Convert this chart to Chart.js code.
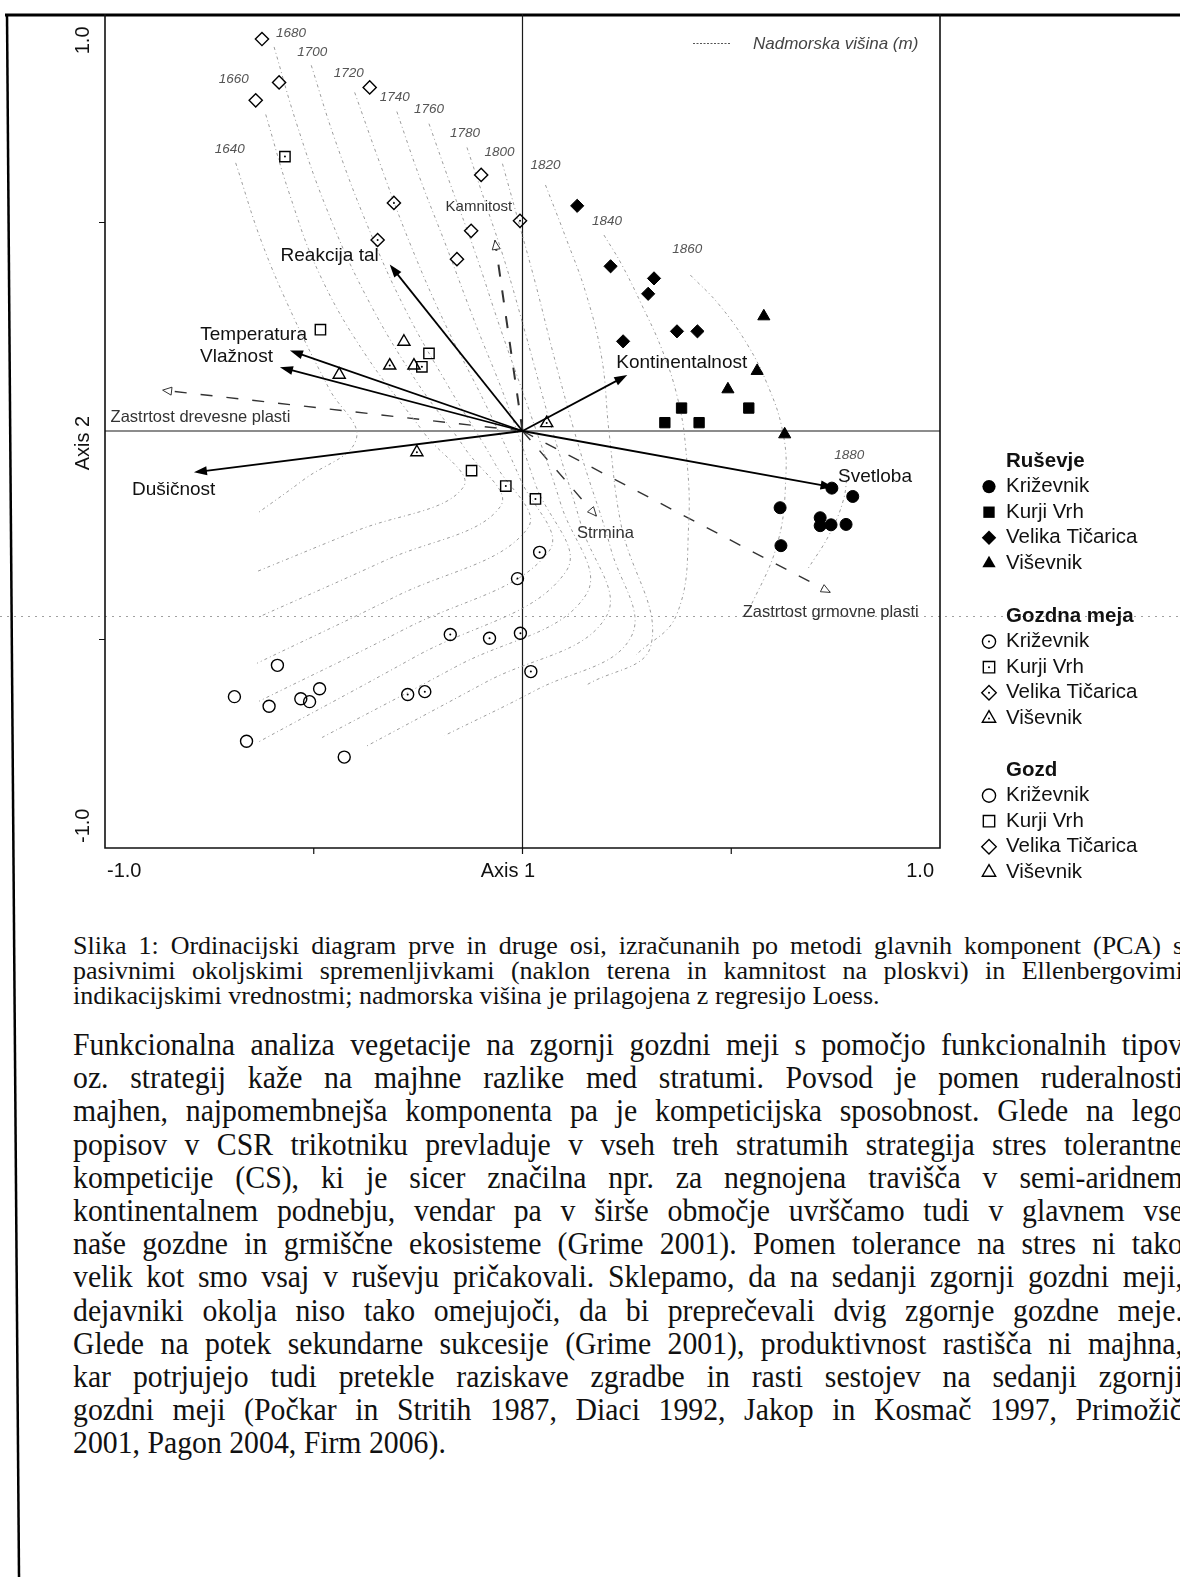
<!DOCTYPE html>
<html>
<head>
<meta charset="utf-8">
<script src="https://cdn.jsdelivr.net/npm/chart.js@4.4.1/dist/chart.umd.min.js"></script>
<style>
  html, body { margin:0; padding:0; background:#fff; }
  body { width:1180px; height:1577px; overflow:hidden; position:relative; }
  #chartBox { position:absolute; left:0; top:0; width:1180px; height:900px; }
  #pageLines { position:absolute; left:0; top:0; }
  .caption { position:absolute; left:73px; top:932.5px; font-family:"Liberation Serif","Times New Roman",serif; font-size:26px; line-height:25px; color:#111; }
  .para { position:absolute; left:73px; top:1028px; font-family:"Liberation Serif","Times New Roman",serif; font-size:32px; line-height:33.2px; color:#111; transform:scaleX(0.93); transform-origin:0 0; }
  .jl { white-space:nowrap; }
</style>
</head>
<body>
<svg id="pageLines" width="1180" height="1577">
  <line x1="5" y1="15" x2="1180" y2="15" stroke="#000" stroke-width="3"/>
  <line x1="7" y1="14" x2="19" y2="1577" stroke="#000" stroke-width="2.5"/>
</svg>
<div id="chartBox"><canvas id="c" width="1180" height="900" style="width:1180px;height:900px"></canvas></div>

<div class="caption" id="cap"></div>
<div class="para" id="par"></div>

<script>
// ================= DATA =================
const sites  = ["Križevnik", "Kurji Vrh", "Velika Tičarica", "Viševnik"];
const strata = ["Ruševje", "Gozdna meja", "Gozd"];

// Ruševje (filled symbols)
const rusKrizX  = [0.741, 0.791, 0.617, 0.713, 0.713, 0.739, 0.775, 0.619];
const rusKrizY  = [-0.137, -0.157, -0.184, -0.208, -0.227, -0.225, -0.224, -0.275];
const rusKurjiX = [0.381, 0.542, 0.341, 0.423];
const rusKurjiY = [0.055, 0.055, 0.020, 0.020];
const rusTicX   = [0.131, 0.211, 0.315, 0.301, 0.370, 0.419, 0.241];
const rusTicY   = [0.540, 0.395, 0.366, 0.329, 0.239, 0.239, 0.215];
const rusVisX   = [0.578, 0.562, 0.492, 0.628];
const rusVisY   = [0.275, 0.144, 0.100, -0.008];

// Gozdna meja (open symbols with centre dot)
const gmKrizX  = [0.041, -0.012, -0.005, 0.020, -0.173, -0.079, -0.275, -0.234];
const gmKrizY  = [-0.291, -0.354, -0.485, -0.577, -0.488, -0.497, -0.632, -0.625];
const gmKurjiX = [-0.569, -0.241, -0.040, 0.031];
const gmKurjiY = [0.658, 0.154, -0.132, -0.163];
const gmTicX   = [-0.308, -0.347, -0.006];
const gmTicY   = [0.547, 0.458, 0.504];
const gmVisX   = [-0.318, 0.058, -0.253];
const gmVisY   = [0.157, 0.019, -0.051];

// Gozd (open symbols)
const gKrizX  = [-0.587, -0.690, -0.607, -0.531, -0.510, -0.486, -0.661, -0.427];
const gKrizY  = [-0.562, -0.637, -0.660, -0.642, -0.649, -0.618, -0.744, -0.782];
const gKurjiX = [-0.484, -0.224, -0.122];
const gKurjiY = [0.243, 0.186, -0.095];
const gTicX   = [-0.624, -0.583, -0.639, -0.366, -0.099, -0.123, -0.157];
const gTicY   = [0.940, 0.836, 0.793, 0.824, 0.614, 0.480, 0.412];
const gVisX   = [-0.284, -0.260, -0.439];
const gVisY   = [0.214, 0.157, 0.135];

// Ellenberg indicator values (solid arrows)
const envNames = ["Reakcija tal", "Temperatura", "Vlažnost", "Dušičnost", "Kontinentalnost", "Svetloba"];
const envX = [-0.318, -0.557, -0.581, -0.787, 0.251, 0.745];
const envY = [0.399, 0.193, 0.153, -0.099, 0.134, -0.135];

// passive variables (dashed arrows)
const suppNames = ["Kamnitost", "Strmina", "Zastrtost grmovne plasti", "Zastrtost drevesne plasti"];
const suppX = [-0.066, 0.177, 0.737, -0.862];
const suppY = [0.457, -0.204, -0.387, 0.098];

// altitude isolines (Loess), m
const isoLevels = [1640, 1660, 1680, 1700, 1720, 1740, 1760, 1780, 1800, 1820, 1840, 1860, 1880];
const isoX = [
  [-0.687, -0.624, -0.547, -0.463, -0.398, -0.523, -0.636],
  [-0.615, -0.559, -0.487, -0.378, -0.234, -0.142, -0.402, -0.636],
  [-0.595, -0.542, -0.470, -0.378, -0.258, -0.137, -0.053, -0.330, -0.636],
  [-0.506, -0.451, -0.374, -0.282, -0.174, -0.065, 0.012, -0.306, -0.636],
  [-0.402, -0.342, -0.270, -0.186, -0.089, -0.005, 0.063, -0.282, -0.631],
  [-0.301, -0.246, -0.181, -0.113, -0.041, 0.031, 0.104, -0.258, -0.631],
  [-0.224, -0.174, -0.113, -0.053, 0.019, 0.092, 0.152, -0.161, -0.480],
  [-0.133, -0.089, -0.041, 0.007, 0.067, 0.140, 0.200, -0.089, -0.376],
  [-0.048, -0.012, 0.031, 0.080, 0.140, 0.212, 0.260, 0.031, -0.186],
  [0.055, 0.104, 0.152, 0.190, 0.207, 0.236, 0.308, 0.152],
  [0.195, 0.236, 0.284, 0.333, 0.369, 0.390, 0.398, 0.369, 0.272],
  [0.402, 0.470, 0.537, 0.586, 0.622, 0.631, 0.610, 0.537],
  [0.778, 0.769, 0.735, 0.682]
];
const isoY = [
  [0.643, 0.451, 0.270, 0.101, -0.019, -0.116, -0.198],
  [0.759, 0.571, 0.378, 0.186, -0.007, -0.135, -0.241, -0.337],
  [0.921, 0.740, 0.535, 0.330, 0.125, -0.043, -0.181, -0.311, -0.448],
  [0.877, 0.704, 0.499, 0.294, 0.101, -0.080, -0.234, -0.398, -0.557],
  [0.812, 0.643, 0.451, 0.258, 0.065, -0.116, -0.289, -0.475, -0.648],
  [0.766, 0.607, 0.439, 0.258, 0.077, -0.128, -0.337, -0.542, -0.745],
  [0.737, 0.595, 0.427, 0.246, 0.041, -0.176, -0.393, -0.566, -0.735],
  [0.680, 0.547, 0.402, 0.234, 0.017, -0.224, -0.446, -0.603, -0.757],
  [0.641, 0.511, 0.354, 0.161, -0.055, -0.284, -0.494, -0.622, -0.730],
  [0.590, 0.463, 0.330, 0.174, 0.000, -0.224, -0.513, -0.610],
  [0.470, 0.402, 0.306, 0.198, 0.089, -0.031, -0.224, -0.441, -0.537],
  [0.374, 0.304, 0.210, 0.113, 0.005, -0.104, -0.272, -0.441],
  [-0.094, -0.164, -0.248, -0.333]
];

// axis tick labels
const xTickValues = [-1, 0, 1];
const xTickLabels = ["-1.0", "Axis 1", "1.0"];
const yTickValues = [1, 0, -1];
const yTickLabels = ["1.0", "Axis 2", "-1.0"];
const minorTicks = [-0.5, 0, 0.5];

const isoLegendText = "Nadmorska višina (m)";

const captionLines = [
  "Slika 1: Ordinacijski diagram prve in druge osi, izračunanih po metodi glavnih komponent (PCA) s",
  "pasivnimi okoljskimi spremenljivkami (naklon terena in kamnitost na ploskvi) in Ellenbergovimi",
  "indikacijskimi vrednostmi; nadmorska višina je prilagojena z regresijo Loess."
];
const paraLines = [
  "Funkcionalna analiza vegetacije na zgornji gozdni meji s pomočjo funkcionalnih tipov",
  "oz. strategij kaže na majhne razlike med stratumi. Povsod je pomen ruderalnosti",
  "majhen, najpomembnejša komponenta pa je kompeticijska sposobnost. Glede na lego",
  "popisov v CSR trikotniku prevladuje v vseh treh stratumih strategija stres tolerantne",
  "kompeticije (CS), ki je sicer značilna npr. za negnojena travišča v semi-aridnem",
  "kontinentalnem podnebju, vendar pa v širše območje uvrščamo tudi v glavnem vse",
  "naše gozdne in grmiščne ekosisteme (Grime 2001). Pomen tolerance na stres ni tako",
  "velik kot smo vsaj v ruševju pričakovali. Sklepamo, da na sedanji zgornji gozdni meji,",
  "dejavniki okolja niso tako omejujoči, da bi preprečevali dvig zgornje gozdne meje.",
  "Glede na potek sekundarne sukcesije (Grime 2001), produktivnost rastišča ni majhna,",
  "kar potrjujejo tudi pretekle raziskave zgradbe in rasti sestojev na sedanji zgornji",
  "gozdni meji (Počkar in Stritih 1987, Diaci 1992, Jakop in Kosmač 1997, Primožič",
  "2001, Pagon 2004, Firm 2006)."
];

// ================= STYLE =================
const FONT = '"Liberation Sans", Arial, Helvetica, sans-serif';
const siteStyle  = ['circle', 'rect', 'rectRot', 'triangle'];
const siteRadius = [6, 7.3, 6.6, 7];
const envLabelAlign = ['right', 'right', 'right', 'left', 'left', 'left'];
const envLabelDX = [-11, 17, -7, -62, -11, 4.5];
const envLabelDY = [-8.5, -15.5, -10.5, 17, -12, -11];
const suppLabelAlign = ['center', 'center', 'center', 'left'];
const suppLabelDX = [-16, 9, 0.5, -52];
const suppLabelDY = [-34, 17, 20, 27.5];
const isoLabelDX = [-6, -32, 17, 1, -6, -2, 0, -2, -3, 0, 3, -3, 2];
const isoLabelDY = [-14, -35, -14, -13, -19, -14, -14, -14, -11, -20, -14, -26, -15];

const groups = [
  [rusKrizX, rusKrizY], [rusKurjiX, rusKurjiY], [rusTicX, rusTicY], [rusVisX, rusVisY],
  [gmKrizX, gmKrizY], [gmKurjiX, gmKurjiY], [gmTicX, gmTicY], [gmVisX, gmVisY],
  [gKrizX, gKrizY], [gKurjiX, gKurjiY], [gTicX, gTicY], [gVisX, gVisY]
];

function pts(xs, ys) { return xs.map((x, i) => ({ x: x, y: ys[i] })); }

const datasets = [];
groups.forEach((g, i) => {
  const s = Math.floor(i / 4), k = i % 4;
  datasets.push({
    label: strata[s] + ' ' + sites[k],
    data: pts(g[0], g[1]),
    pointStyle: siteStyle[k],
    pointRadius: siteRadius[k],
    pointHoverRadius: siteRadius[k],
    pointBorderWidth: s === 0 ? 1 : 1.4,
    pointBorderColor: '#000',
    pointBackgroundColor: s === 0 ? '#000' : 'rgba(255,255,255,0)',
    showLine: false,
    order: 1,
    centreDot: s === 1
  });
});
isoLevels.forEach((lv, j) => {
  datasets.push({
    label: 'Nadmorska višina ' + lv,
    data: pts(isoX[j], isoY[j]),
    showLine: true,
    pointRadius: 0,
    borderColor: '#9c9c9c',
    borderWidth: 1,
    borderDash: [3, 3, 1, 3],
    tension: 0.4,
    fill: false,
    order: 5
  });
});

function symbol(ctx, style, x, y, r, filled, dot) {
  ctx.beginPath();
  if (style === 'circle') ctx.arc(x, y, r, 0, Math.PI * 2);
  else if (style === 'rect') { const s = r * Math.SQRT1_2; ctx.rect(x - s, y - s, 2 * s, 2 * s); }
  else if (style === 'rectRot') { ctx.moveTo(x, y - r); ctx.lineTo(x + r, y); ctx.lineTo(x, y + r); ctx.lineTo(x - r, y); ctx.closePath(); }
  else { ctx.moveTo(x, y - r); ctx.lineTo(x + r * 0.866, y + r * 0.5); ctx.lineTo(x - r * 0.866, y + r * 0.5); ctx.closePath(); }
  if (filled) { ctx.fillStyle = '#000'; ctx.fill(); }
  else { ctx.lineWidth = 1.4; ctx.strokeStyle = '#000'; ctx.stroke(); }
  if (dot) { ctx.beginPath(); ctx.arc(x, y, 1, 0, Math.PI * 2); ctx.fillStyle = '#000'; ctx.fill(); }
}

function head(ctx, x0, y0, x1, y1, len, half, filled) {
  const a = Math.atan2(y1 - y0, x1 - x0);
  const bx = x1 - len * Math.cos(a), by = y1 - len * Math.sin(a);
  ctx.beginPath();
  ctx.moveTo(x1, y1);
  ctx.lineTo(bx + half * Math.sin(a), by - half * Math.cos(a));
  ctx.lineTo(bx - half * Math.sin(a), by + half * Math.cos(a));
  ctx.closePath();
  if (filled) { ctx.fillStyle = '#000'; ctx.fill(); }
  else { ctx.fillStyle = '#fff'; ctx.fill(); ctx.lineWidth = 1; ctx.strokeStyle = '#333'; ctx.stroke(); }
}

const extras = {
  id: 'extras',
  beforeDatasetsDraw(chart) {
    const ctx = chart.ctx, xs = chart.scales.x, ys = chart.scales.y, ca = chart.chartArea;
    const ox = xs.getPixelForValue(0), oy = ys.getPixelForValue(0);
    ctx.save();
    // faint dotted horizontal scan line
    ctx.strokeStyle = '#a0a0a0'; ctx.lineWidth = 1; ctx.setLineDash([2, 5]);
    ctx.beginPath(); ctx.moveTo(0, 616.5); ctx.lineTo(1180, 616.5); ctx.stroke();
    ctx.setLineDash([]);
    // axes through origin
    ctx.strokeStyle = '#1a1a1a'; ctx.lineWidth = 1.2;
    ctx.beginPath();
    ctx.moveTo(ca.left, oy); ctx.lineTo(ca.right, oy);
    ctx.moveTo(ox, ca.top); ctx.lineTo(ox, ca.bottom);
    ctx.stroke();
    // frame
    ctx.lineWidth = 1.6; ctx.strokeStyle = '#111';
    ctx.beginPath();
    ctx.moveTo(ca.left, ca.top); ctx.lineTo(ca.left, ca.bottom); ctx.lineTo(ca.right, ca.bottom); ctx.lineTo(ca.right, ca.top);
    ctx.stroke();
    // ticks
    ctx.lineWidth = 1.2;
    ctx.beginPath();
    minorTicks.forEach(v => {
      const px = xs.getPixelForValue(v); ctx.moveTo(px, ca.bottom); ctx.lineTo(px, ca.bottom + 6);
      if (v !== 0) { const py = ys.getPixelForValue(v); ctx.moveTo(ca.left - 6, py); ctx.lineTo(ca.left, py); }
    });
    ctx.stroke();
    // passive variables: dashed arrows
    ctx.strokeStyle = '#333';
    suppNames.forEach((n, i) => {
      const tx = xs.getPixelForValue(suppX[i]), ty = ys.getPixelForValue(suppY[i]);
      ctx.lineWidth = i === 0 ? 2 : 1.4;
      ctx.setLineDash([12, 14]);
      ctx.beginPath(); ctx.moveTo(ox, oy); ctx.lineTo(tx, ty); ctx.stroke();
      ctx.setLineDash([]);
      head(ctx, ox, oy, tx, ty, 9, 4, false);
    });
    ctx.restore();
  },
  afterDatasetsDraw(chart) {
    const ctx = chart.ctx, xs = chart.scales.x, ys = chart.scales.y;
    const ox = xs.getPixelForValue(0), oy = ys.getPixelForValue(0);
    ctx.save();
    // centre dots for "Gozdna meja"
    chart.data.datasets.forEach((ds, i) => {
      if (!ds.centreDot) return;
      chart.getDatasetMeta(i).data.forEach(el => {
        ctx.beginPath(); ctx.arc(el.x, el.y, 1, 0, Math.PI * 2); ctx.fillStyle = '#000'; ctx.fill();
      });
    });
    // solid arrows
    ctx.strokeStyle = '#000'; ctx.lineWidth = 1.8;
    envNames.forEach((n, i) => {
      const tx = xs.getPixelForValue(envX[i]), ty = ys.getPixelForValue(envY[i]);
      const a = Math.atan2(ty - oy, tx - ox);
      ctx.beginPath(); ctx.moveTo(ox, oy); ctx.lineTo(tx - 8 * Math.cos(a), ty - 8 * Math.sin(a)); ctx.stroke();
      head(ctx, ox, oy, tx, ty, 13, 4.5, true);
      ctx.font = '19px ' + FONT; ctx.fillStyle = '#111';
      ctx.textAlign = envLabelAlign[i]; ctx.textBaseline = 'middle';
      ctx.fillText(n, tx + envLabelDX[i], ty + envLabelDY[i]);
    });
    // passive labels
    ctx.textBaseline = 'middle'; ctx.fillStyle = '#333';
    suppNames.forEach((n, i) => {
      const tx = xs.getPixelForValue(suppX[i]), ty = ys.getPixelForValue(suppY[i]);
      ctx.font = (i === 0 ? '15px ' : '16.5px ') + FONT;
      ctx.textAlign = suppLabelAlign[i];
      ctx.fillText(n, tx + suppLabelDX[i], ty + suppLabelDY[i]);
    });
    // isoline labels
    ctx.font = 'italic 13.5px ' + FONT; ctx.fillStyle = '#555'; ctx.textAlign = 'center';
    isoLevels.forEach((lv, j) => {
      const px = xs.getPixelForValue(isoX[j][0]), py = ys.getPixelForValue(isoY[j][0]);
      ctx.fillText(String(lv), px + isoLabelDX[j], py + isoLabelDY[j]);
    });
    // isoline legend
    ctx.strokeStyle = '#555'; ctx.lineWidth = 1.2; ctx.setLineDash([2, 1.5]);
    ctx.beginPath(); ctx.moveTo(693, 43.5); ctx.lineTo(730, 43.5); ctx.stroke(); ctx.setLineDash([]);
    ctx.font = 'italic 17px ' + FONT; ctx.fillStyle = '#444'; ctx.textAlign = 'left';
    ctx.fillText(isoLegendText, 753, 44);
    // axis labels
    ctx.font = '20px ' + FONT; ctx.fillStyle = '#111'; ctx.textBaseline = 'middle';
    const xAl = ['left', 'center', 'right'], xDx = [2, -14.5, -6];
    xTickValues.forEach((v, i) => {
      ctx.textAlign = xAl[i];
      ctx.fillText(xTickLabels[i], xs.getPixelForValue(v) + xDx[i], 871);
    });
    const yAl = ['right', 'center', 'left'], yDy = [12.5, 12, -5];
    yTickValues.forEach((v, i) => {
      ctx.save();
      ctx.translate(83, ys.getPixelForValue(v) + yDy[i]);
      ctx.rotate(-Math.PI / 2);
      ctx.textAlign = yAl[i];
      ctx.fillText(yTickLabels[i], 0, 0);
      ctx.restore();
    });
    // right-hand legend
    const blockTop = [461, 616, 770], step = 25.6;
    strata.forEach((st, s) => {
      ctx.font = 'bold 20.5px ' + FONT; ctx.fillStyle = '#111'; ctx.textAlign = 'left'; ctx.textBaseline = 'middle';
      ctx.fillText(st, 1006, blockTop[s]);
      sites.forEach((site, k) => {
        const y = blockTop[s] + step * (k + 1);
        symbol(ctx, siteStyle[k], 989, y, siteRadius[k] * 1.1, s === 0, s === 1);
        ctx.font = '20.5px ' + FONT; ctx.fillStyle = '#111';
        ctx.fillText(site, 1006, y);
      });
    });
    ctx.restore();
  }
};

new Chart(document.getElementById('c'), {
  type: 'scatter',
  data: { datasets: datasets },
  options: {
    responsive: false,
    devicePixelRatio: 1,
    animation: false,
    events: [],
    layout: { padding: { left: 105, top: 14, right: 240, bottom: 52 } },
    scales: {
      x: { type: 'linear', min: -1, max: 1, display: false },
      y: { type: 'linear', min: -1, max: 1, display: false }
    },
    plugins: { legend: { display: false }, tooltip: { enabled: false } }
  },
  plugins: [extras]
});

// ================= TEXT =================
function addLines(container, lines, target, scale) {
  lines.forEach((t, i) => {
    const d = document.createElement('div'); d.className = 'jl';
    const s = document.createElement('span'); s.textContent = t; d.appendChild(s);
    container.appendChild(d);
    if (i < lines.length - 1) {
      const w = s.getBoundingClientRect().width;   // on-screen width
      const n = (t.match(/ /g) || []).length;
      if (n > 0) s.style.wordSpacing = ((target - w) / n / scale) + 'px';
    }
  });
}
addLines(document.getElementById('cap'), captionLines, 1110, 1);
addLines(document.getElementById('par'), paraLines, 1110, 0.93);
</script>
</body>
</html>
